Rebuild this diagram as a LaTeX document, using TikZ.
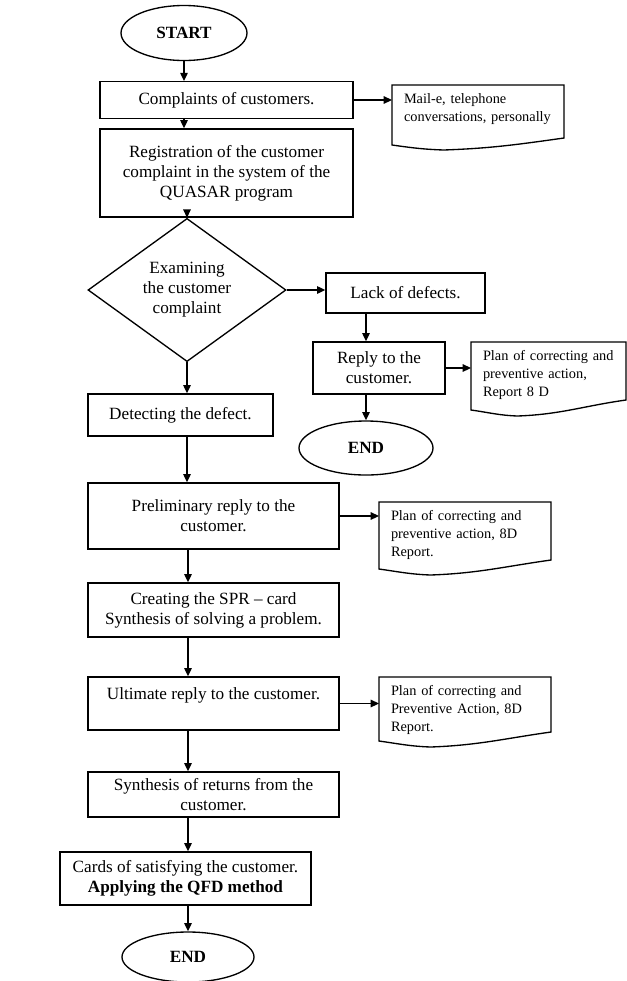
\documentclass[tikz,border=0pt]{standalone}
\usepackage{fontspec}
\setmainfont{Liberation Serif}
\usepackage{tikz}
\usetikzlibrary{shapes.geometric,arrows.meta,calc}
\newcommand{\boxfont}{\fontsize{10.3}{12}\selectfont}
\newcommand{\docfont}{\fontsize{8.6}{10.6}\selectfont}
\tikzstyle{procbox} = [draw=black, fill=white, line width=0.8pt, rectangle, align=center, inner sep=2pt, font=\boxfont]
\tikzstyle{termbox} = [draw=black, fill=white, line width=0.8pt, ellipse, inner sep=0pt, font=\boxfont\bfseries]
\tikzstyle{decbox} = [draw=black, fill=white, line width=0.8pt, diamond, inner sep=0pt, align=center, font=\boxfont]
\tikzstyle{docnode} = [rectangle, anchor=north west, align=left, inner xsep=7pt, inner ysep=5pt, font=\docfont]
\tikzstyle{flow} = [line width=0.9pt, -{Triangle[length=5pt,width=4.5pt]}]

\begin{document}
\begin{tikzpicture}[x=0.6pt, y=-0.6pt]
\useasboundingbox (0,0) rectangle (627,981);
% main column
\node [termbox, minimum width=75.6pt, minimum height=33pt] (start) at (184,33) {START};
\node [procbox, minimum width=151.8pt, minimum height=21.9pt] (compl) at (226.5,100) {Complaints of customers.};
\node [procbox, minimum width=151.8pt, minimum height=52.8pt] (regist) at (226.5,173)
    {Registration of the customer\\complaint in the system of the\\QUASAR program};
\node [decbox, minimum width=118.8pt, minimum height=70.2pt] (exam) at (187,290)
    {Examining\\the customer\\complaint};
\node [procbox, minimum width=111pt, minimum height=25.2pt] (detect) at (180.5,415) {Detecting the defect.};
\node [procbox, minimum width=150.6pt, minimum height=39.6pt] (prelim) at (213.5,516)
    {Preliminary reply to the\\customer.};
\node [procbox, minimum width=150.6pt, minimum height=32.4pt] (spr) at (213.5,610)
    {Creating the SPR -- card\\Synthesis of solving a problem.};
\node [procbox, minimum width=150.6pt, minimum height=31.8pt] (ultim) at (213.5,703.5)
    {Ultimate reply to the customer.\\\mbox{}};
\node [procbox, minimum width=150.6pt, minimum height=27pt] (synth) at (213.5,794.5)
    {Synthesis of returns from the\\customer.};
\node [procbox, minimum width=150.6pt, minimum height=31.8pt] (cards) at (185.5,878.5)
    {Cards of satisfying the customer.\\\textbf{Applying the QFD method}};
\node [termbox, minimum width=79.2pt, minimum height=30pt] (endB) at (188,957) {END};

% branch without defects
\node [procbox, minimum width=95.4pt, minimum height=24pt] (lack) at (405.5,293) {Lack of defects.};
\node [procbox, minimum width=79.2pt, minimum height=31.2pt] (reply) at (379,368) {Reply to the\\customer.};
\node [termbox, minimum width=80.4pt, minimum height=32.4pt] (endA) at (366,448) {END};

% documents
\node [docnode, text width=89.2pt] (mail) at (392,85) {Mail-e, telephone\\conversations, personally};
\node [docnode, text width=79pt] (planA) at (471,342) {Plan of correcting and\\preventive action,\\Report 8 D};
\node [docnode, text width=89.2pt] (planB) at (379,502) {Plan of correcting and\\preventive action, 8D\\Report.};
\node [docnode, text width=89.2pt] (planC) at (379,677) {Plan of correcting and\\Preventive Action, 8D\\Report.};
\foreach \d/\w/\h/\l/\r in {mail/172/65/5/12, planA/155/74/6/16, planB/172/73/6/15, planC/172/70/6/15}
  \draw[line width=0.8pt] (\d.north west) -- ($(\d.north west)+(\w,0)$) -- ($(\d.north west)+(\w,\h-\r)$)
    to[out=188,in=2] ($(\d.north west)+(0.3*\w,\h)$) to[out=178,in=-8] ($(\d.north west)+(0,\h-\l)$) -- cycle;

% connectors
\draw[flow] (start.south) -- (start.south |- compl.north);
\draw[flow] (start.south |- compl.south) -- (start.south |- regist.north);
\draw[flow] (exam.north |- regist.south) -- (exam.north);
\draw[flow] (compl.east) -- (compl.east -| mail.west);
\draw[flow] (exam.east) -- (exam.east -| lack.west);
\draw[flow] (endA.north |- lack.south) -- (endA.north |- reply.north);
\draw[flow] (endA.north |- reply.south) -- (endA.north);
\draw[flow] (reply.east) -- (reply.east -| planA.west);
\draw[flow] (exam.south) -- (exam.south |- detect.north);
\draw[flow] (exam.south |- detect.south) -- (exam.south |- prelim.north);
\foreach \a/\b in {prelim/spr, spr/ultim, ultim/synth, synth/cards}
  \draw[flow] (endB.north |- \a.south) -- (endB.north |- \b.north);
\draw[flow] (endB.north |- cards.south) -- (endB.north);
\draw[flow] (prelim.east) -- (prelim.east -| planB.west);
\draw[flow] (ultim.east) -- (ultim.east -| planC.west);
\end{tikzpicture}
\end{document}
